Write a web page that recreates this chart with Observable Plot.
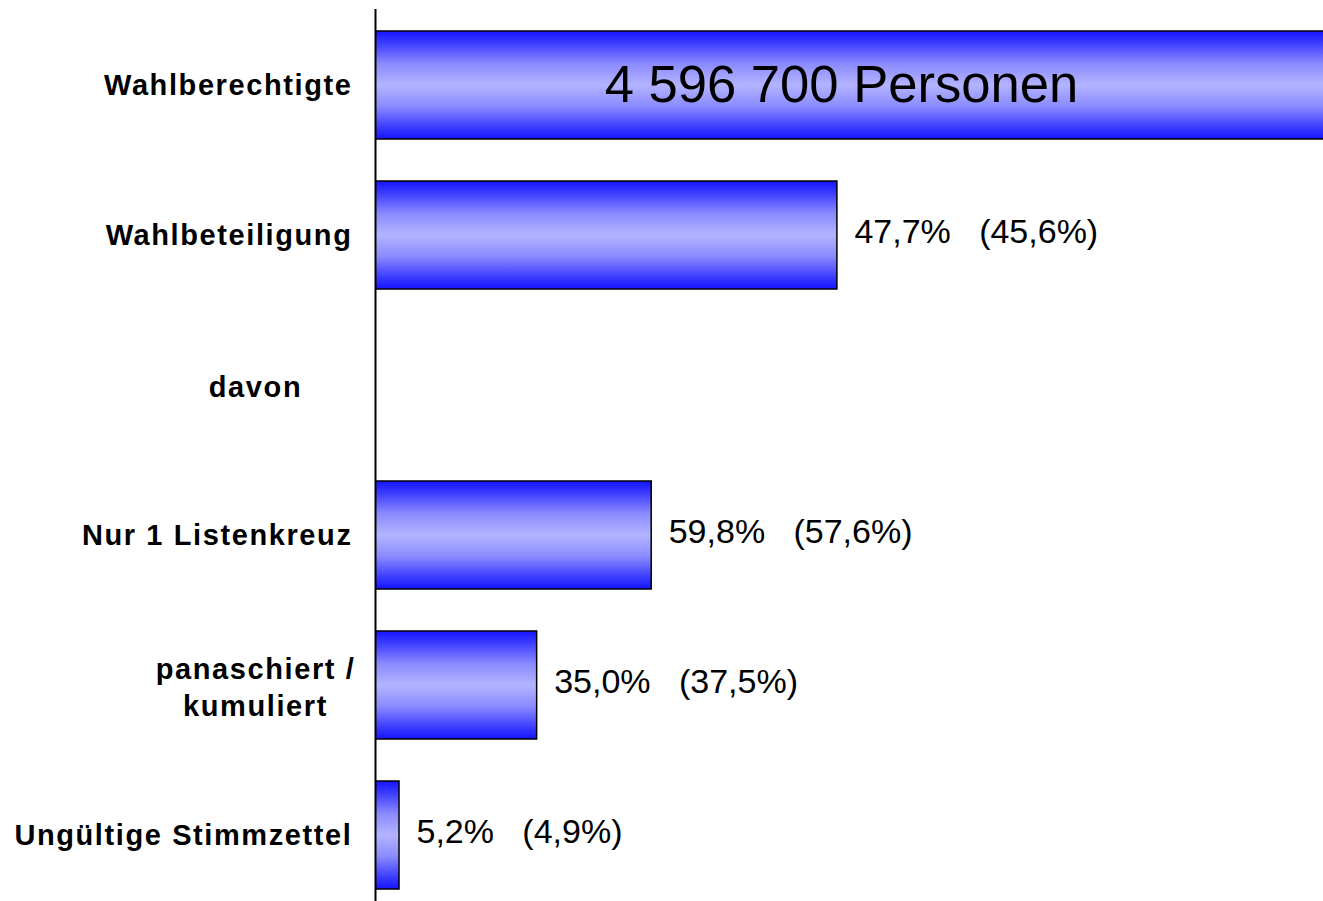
<!DOCTYPE html>
<html><head><meta charset="utf-8">
<script src="https://cdn.jsdelivr.net/npm/d3@7"></script>
<script src="https://cdn.jsdelivr.net/npm/@observablehq/plot@0.6"></script>
<style>
html,body{margin:0;padding:0;background:#fff;overflow:hidden}
.catlabel text{letter-spacing:1.6px}
</style>
</head><body><div id="chart"></div>
<script>
// Categories (top to bottom)
const categories = ["Wahlberechtigte", "Wahlbeteiligung", "davon", "Nur 1 Listenkreuz", "panaschiert /\nkumuliert", "Ungültige Stimmzettel"];
// Eligible voters label
const eligibleLabel = "4 596 700 Personen";
// Turnout (% of eligible)
const turnout = 47.7;
// Current shares (%), and previous election (in parentheses)
const currentPct = [null, 47.7, null, 59.8, 35.0, 5.2];
const previousPct = [null, 45.6, null, 57.6, 37.5, 4.9];

const fmt = v => v.toFixed(1).replace(".", ",") + "%";

// Bar length as share of eligible voters
const bars = categories.map((c, i) => {
  let value = null;
  if (i === 0) value = 100;
  else if (i === 1) value = currentPct[i];
  else if (currentPct[i] != null) value = currentPct[i] * turnout / 100;
  return {category: c, value, label: currentPct[i] != null ? fmt(currentPct[i]) + "   (" + fmt(previousPct[i]) + ")" : null};
}).filter(d => d.value != null);

const valueRows = bars.filter(d => d.label);
const rightLabels = categories.filter(c => c !== "davon" && !c.includes("\n"));
const centerLabels = categories.filter(c => c === "davon" || c.includes("\n"));

const plot = Plot.plot({
  width: 1323, height: 901,
  marginLeft: 375, marginRight: 0, marginTop: 9, marginBottom: 0,
  style: {fontFamily: "'Liberation Sans', Arial, sans-serif", background: "#fff", color: "#000"},
  x: {domain: [0, 97.9], axis: null},
  y: {domain: categories, range: [10, 910], paddingInner: 0.28, paddingOuter: 0.14, axis: null},
  marks: [
    Plot.barX(bars, {x: "value", y: "category", fill: "url(#barGrad)", stroke: "#000", strokeWidth: 1.5, clip: true}),
    Plot.ruleX([0], {stroke: "#000", strokeWidth: 2}),
    Plot.text(rightLabels, {y: d => d, text: d => d, frameAnchor: "left", textAnchor: "end", dx: -23, fontWeight: "bold", fontSize: 29, className: "catlabel"}),
    Plot.text(centerLabels, {y: d => d, text: d => d, frameAnchor: "left", textAnchor: "middle", dx: -120, fontWeight: "bold", fontSize: 29, lineHeight: 1.28, className: "catlabel"}),
    Plot.text(valueRows, {x: "value", y: "category", text: "label", textAnchor: "start", dx: 17, dy: -3, fontSize: 34}),
    Plot.text([eligibleLabel], {y: () => categories[0], text: d => d, frameAnchor: "middle", dx: -8, fontSize: 52.6})
  ]
});

d3.select(plot).insert("defs", ":first-child").html(`
  <linearGradient id="barGrad" x1="0" y1="0" x2="0" y2="1">
    <stop offset="0" stop-color="#1414ff"/>
    <stop offset="0.12" stop-color="#4040ff"/>
    <stop offset="0.3" stop-color="#8a8aff"/>
    <stop offset="0.5" stop-color="#b4b4ff"/>
    <stop offset="0.7" stop-color="#8a8aff"/>
    <stop offset="0.88" stop-color="#4040ff"/>
    <stop offset="1" stop-color="#1414ff"/>
  </linearGradient>`);

document.getElementById("chart").appendChild(plot);
</script>
</body></html>
